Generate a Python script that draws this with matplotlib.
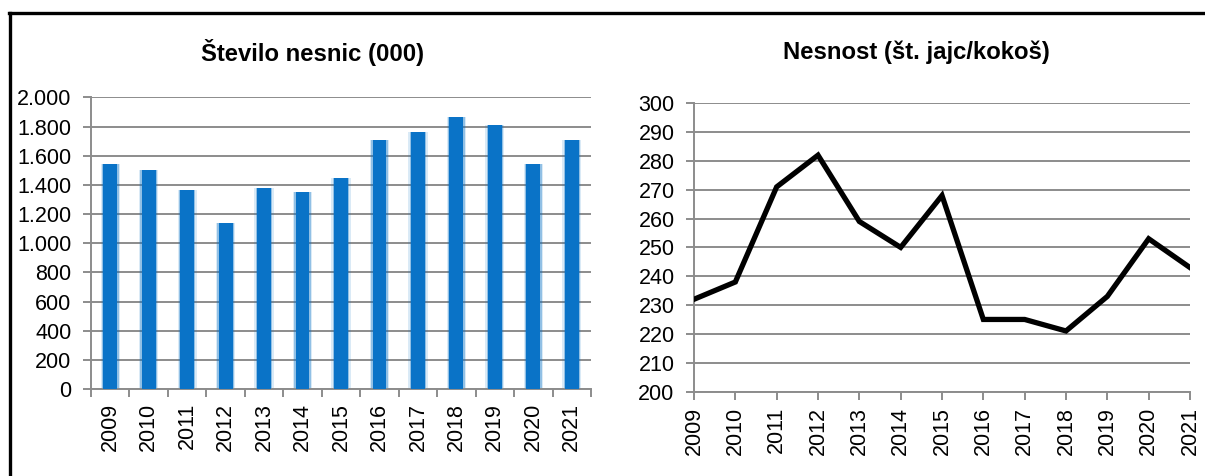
import matplotlib
matplotlib.use("Agg")
import matplotlib.pyplot as plt
from matplotlib.lines import Line2D
from matplotlib.ticker import FuncFormatter, MultipleLocator
import numpy as np

plt.rcParams['font.family'] = ['Liberation Sans', 'DejaVu Sans']

years = ['2009', '2010', '2011', '2012', '2013', '2014', '2015',
         '2016', '2017', '2018', '2019', '2020', '2021']
nesnice = [1545, 1500, 1366, 1142, 1380, 1352, 1448,
           1711, 1765, 1866, 1811, 1546, 1711]
nesnost = [232, 238, 271, 282, 259, 250, 268,
           225, 225, 221, 233, 253, 243]

title_left = 'Število nesnic (000)'
title_right = 'Nesnost (št. jajc/kokoš)'

grid_c = '#8c8c8c'
bar_c = '#0a73c7'
W, H = 1205, 476

fig = plt.figure(figsize=(W / 100, H / 100), dpi=100)

# frame lines
fig.add_artist(Line2D([9 / W, 1.0], [1 - 13 / H, 1 - 13 / H], color='black', lw=2.4,
                      transform=fig.transFigure))
fig.add_artist(Line2D([10 / W, 10 / W], [0, 1 - 13 / H], color='black', lw=2.4,
                      transform=fig.transFigure))


def style(ax):
    for s in ['top', 'right']:
        ax.spines[s].set_visible(False)
    for s in ['left', 'bottom']:
        ax.spines[s].set_color(grid_c)
        ax.spines[s].set_linewidth(1.4)
    ax.grid(axis='y', color=grid_c, lw=1.4)
    ax.set_axisbelow(True)
    ax.tick_params(axis='y', length=6, width=1.4, color=grid_c, labelsize=15.5, pad=8)
    ax.tick_params(axis='x', length=6, width=1.4, color=grid_c, labelsize=15.5, pad=5,
                   labelrotation=90)


# left: bars
ax1 = fig.add_axes([91 / W, 1 - 389 / H, 500 / W, (389 - 97.5) / H])
x = np.arange(len(years))
ax1.bar(x, nesnice, width=0.50, color=bar_c, alpha=0.15, zorder=2)
ax1.bar(x, nesnice, width=0.43, color=bar_c, alpha=0.35, zorder=2)
ax1.bar(x, nesnice, width=0.36, color=bar_c, zorder=3)
ax1.set_xlim(-0.5, len(years) - 0.5)
ax1.set_ylim(0, 2000)
ax1.yaxis.set_major_locator(MultipleLocator(200))
ax1.yaxis.set_major_formatter(FuncFormatter(lambda v, p: f'{int(v):,}'.replace(',', '.')))
ax1.set_xticks(x)
ax1.set_xticklabels(years)
ax1.set_xticks(np.arange(-0.5, len(years)), minor=True)
style(ax1)
ax1.tick_params(axis='x', which='major', length=0, pad=10)
ax1.tick_params(axis='x', which='minor', length=6, width=1.4, color=grid_c)
fig.text(313 / W, 1 - 52 / H, title_left, ha='center', va='center',
         fontsize=17.2, fontweight='bold')

# right: line
ax2 = fig.add_axes([694 / W, 1 - 391.5 / H, 496 / W, (391.5 - 103.3) / H])
ax2.plot(x, nesnost, color='black', lw=3.8, solid_joinstyle='miter', zorder=3)
ax2.set_xlim(0, len(years) - 1)
ax2.set_ylim(200, 300)
ax2.yaxis.set_major_locator(MultipleLocator(10))
ax2.set_xticks(x)
ax2.set_xticklabels(years)
style(ax2)
fig.text(916 / W, 1 - 52 / H, title_right, ha='center', va='center',
         fontsize=17.2, fontweight='bold')

fig.savefig('out.png', dpi=100)
